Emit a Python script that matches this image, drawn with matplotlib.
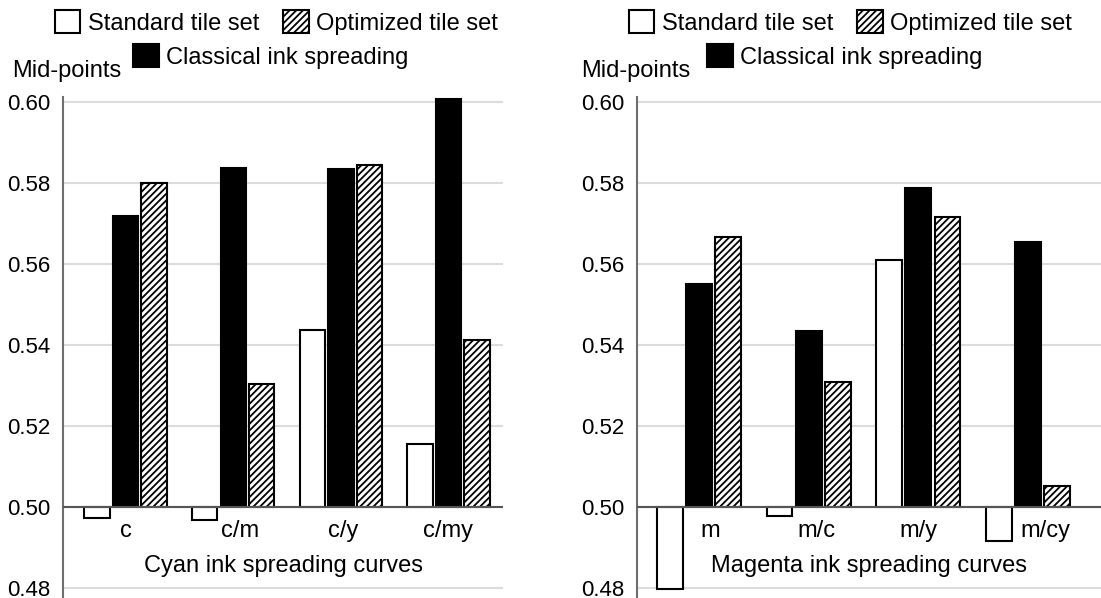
import matplotlib
matplotlib.use("Agg")
import matplotlib.pyplot as plt
import matplotlib.transforms as mtransforms
from matplotlib.patches import Patch
import numpy as np

plt.rcParams['font.family'] = ['Liberation Sans', 'DejaVu Sans']
plt.rcParams['hatch.linewidth'] = 1.3

# ---- data ----
cyan_categories = ["c", "c/m", "c/y", "c/my"]
cyan_standard = [0.4972, 0.4968, 0.5436, 0.5155]
cyan_classical = [0.5718, 0.5837, 0.5833, 0.6006]
cyan_optimized = [0.5800, 0.5303, 0.5843, 0.5413]

magenta_categories = ["m", "m/c", "m/y", "m/cy"]
magenta_standard = [0.4796, 0.4977, 0.5609, 0.4916]
magenta_classical = [0.5551, 0.5434, 0.5788, 0.5653]
magenta_optimized = [0.5666, 0.5308, 0.5716, 0.5052]

yticks = [0.48, 0.50, 0.52, 0.54, 0.56, 0.58, 0.60]
ytick_labels = ["0.48", "0.50", "0.52", "0.54", "0.56", "0.58", "0.60"]
series_names = ["Standard tile set", "Optimized tile set", "Classical ink spreading"]
ylabel = "Mid-points"
xlabels = ["Cyan ink spreading curves", "Magenta ink spreading curves"]

BASE = 0.50
W, H = 1101, 598
fig = plt.figure(figsize=(W / 100, H / 100), dpi=100)

FS = 17
TFS = 16

def make_panel(rect, xlim, cats, std, cla, opt, xlabel, leg_x1, leg_x2, label_shift):
    ax = fig.add_axes(rect)
    x = np.arange(len(cats))
    bw = 0.235
    off = 0.265
    std_v = np.array(std) - BASE
    cla_v = np.array(cla) - BASE
    opt_v = np.array(opt) - BASE
    ax.bar(x - off, std_v, bw, bottom=BASE, color="white", edgecolor="black", linewidth=1.5, zorder=3)
    ax.bar(x, cla_v, bw, bottom=BASE, color="black", edgecolor="black", linewidth=1.5, zorder=3)
    ax.bar(x + off, opt_v, bw, bottom=BASE, color="white", edgecolor="black", hatch="/////",
           linewidth=1.5, zorder=3)
    ax.set_xlim(*xlim)
    ax.set_ylim(0.4775, 0.6012)
    ax.set_yticks(yticks)
    ax.set_yticklabels(ytick_labels, fontsize=TFS)
    ax.tick_params(axis="y", length=0, pad=9)
    ax.set_xticks([])
    for s in ["top", "right", "bottom"]:
        ax.spines[s].set_visible(False)
    ax.spines["left"].set_color("#6e6e6e")
    ax.spines["left"].set_linewidth(1.5)
    ax.yaxis.grid(True, color="#dcdcdc", linewidth=1.5, zorder=0)
    ax.set_axisbelow(True)
    ax.axhline(BASE, color="#555555", linewidth=1.5, zorder=4)
    for i, c in enumerate(cats):
        ax.text(i + label_shift[i], 0.49245, c, ha="center", va="baseline", fontsize=FS, zorder=5)
    ax.text(0.5, 0.4838, xlabel,
            transform=mtransforms.blended_transform_factory(ax.transAxes, ax.transData),
            ha="center", va="baseline", fontsize=FS)
    # legend
    h_std = Patch(facecolor="white", edgecolor="black", linewidth=1.5)
    h_opt = Patch(facecolor="white", edgecolor="black", hatch="/////", linewidth=1.5)
    h_cla = Patch(facecolor="black", edgecolor="black", linewidth=1.5)
    common = dict(frameon=False, fontsize=FS, handlelength=1.1, handleheight=1.1,
                  handletextpad=0.3, columnspacing=1.0, borderpad=0, borderaxespad=0,
                  loc="center", bbox_transform=fig.transFigure)
    leg1 = ax.legend([h_std, h_opt], series_names[:2], ncol=2,
                     bbox_to_anchor=(leg_x1, 1 - 22.5 / H), **common)
    ax.add_artist(leg1)
    ax.legend([h_cla], series_names[2:], ncol=1,
              bbox_to_anchor=(leg_x2, 1 - 56.5 / H), **common)
    return ax

ax1 = make_panel([63 / W, 0, 440 / W, 501 / H], (-0.58, 3.505),
                 cyan_categories, cyan_standard, cyan_classical, cyan_optimized,
                 xlabels[0], 276 / W, 271 / W, [0.0, 0.06, 0.02, -0.005])
ax2 = make_panel([637 / W, 0, 464 / W, 501 / H], (-0.565, 3.665),
                 magenta_categories, magenta_standard, magenta_classical, magenta_optimized,
                 xlabels[1], 850 / W, 844.5 / W, [0.10, 0.07, 0.0, 0.16])

fig.text(12 / W, 1 - 77 / H, ylabel, ha="left", va="baseline", fontsize=FS)
fig.text(581 / W, 1 - 77 / H, ylabel, ha="left", va="baseline", fontsize=FS)

fig.savefig("out.png", dpi=100)
